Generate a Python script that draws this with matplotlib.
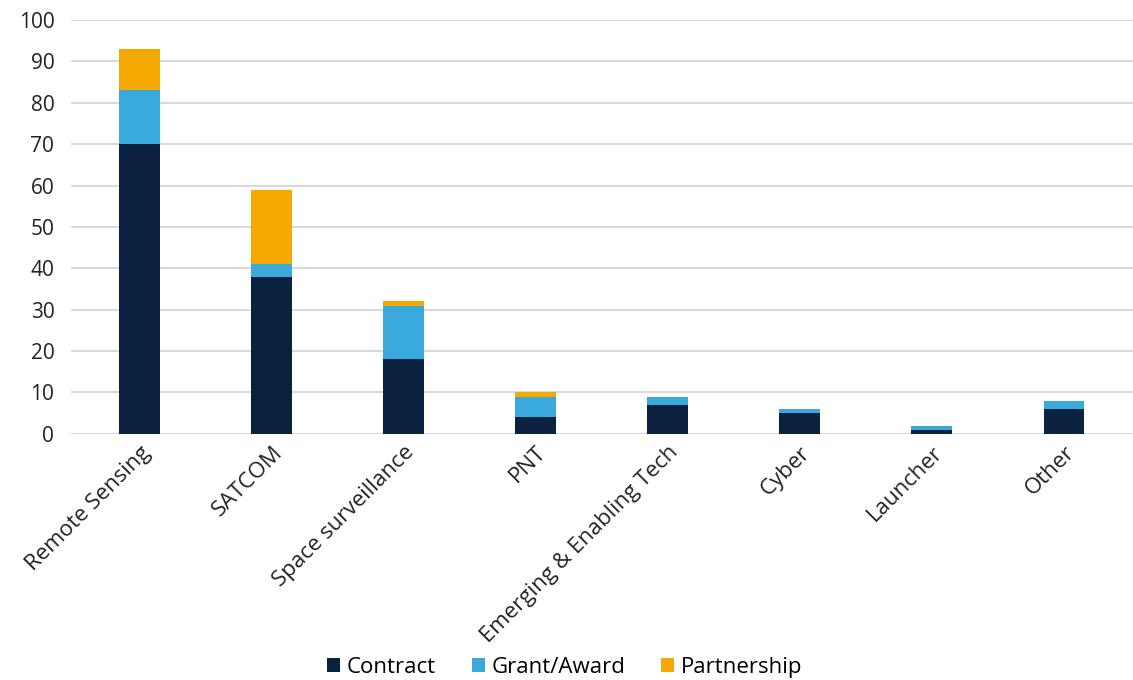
import matplotlib
matplotlib.use("Agg")
import matplotlib.pyplot as plt
import numpy as np

categories = ["Remote Sensing", "SATCOM", "Space surveillance", "PNT",
              "Emerging & Enabling Tech", "Cyber", "Launcher", "Other"]
contract = [70, 38, 18, 4, 7, 5, 1, 6]
grant = [13, 3, 13, 5, 2, 1, 1, 2]
partnership = [10, 18, 1, 1, 0, 0, 0, 0]

series = ["Contract", "Grant/Award", "Partnership"]
colours = ["#0a2240", "#3aa9dc", "#f5a800"]

plt.rcParams["font.family"] = ["Open Sans", "DejaVu Sans"]

fig = plt.figure(figsize=(11.33, 6.8), dpi=100)
ax = fig.add_axes([0.0627, 0.362, 0.937, 0.6086])

x = np.arange(len(categories))
bottom = np.zeros(len(categories))
for vals, name, col in zip([contract, grant, partnership], series, colours):
    ax.bar(x, vals, 0.31, bottom=bottom, color=col, label=name, zorder=3)
    bottom += np.array(vals)

# osie i siatka
ax.set_ylim(0, 100)
ax.set_yticks(range(0, 101, 10))
ax.set_xlim(-0.52, len(categories) - 0.48)
ax.grid(axis="y", color="#d9d9d9", linewidth=1.5, zorder=0)
for s in ax.spines.values():
    s.set_visible(False)
ax.tick_params(axis="both", length=0, labelsize=15, colors="#222222")
ax.tick_params(axis="x", labelsize=16, pad=6)
ax.tick_params(axis="y", pad=12)
ax.set_xticks(x)
ax.set_xticklabels(categories, rotation=45, ha="right", rotation_mode="anchor")

ax.legend(loc="center", bbox_to_anchor=(0.465, -0.565), ncol=3, frameon=False,
          fontsize=16, handlelength=0.6, handleheight=0.6, handletextpad=0.3,
          columnspacing=1.6, borderpad=0)

fig.savefig("out.png", dpi=100)
